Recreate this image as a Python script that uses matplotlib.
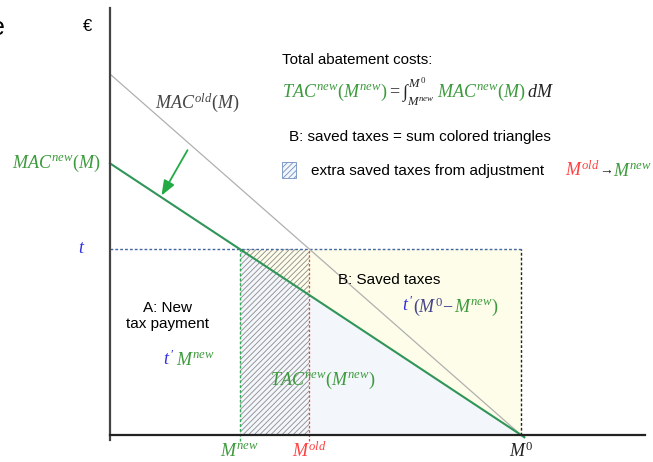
import matplotlib
matplotlib.use("Agg")
import matplotlib.pyplot as plt
import matplotlib.transforms as mtransforms
import numpy as np

plt.rcParams["font.family"] = ["Liberation Sans", "DejaVu Sans"]
plt.rcParams["mathtext.fontset"] = "custom"
plt.rcParams["mathtext.rm"] = "Liberation Serif"
plt.rcParams["mathtext.it"] = "Liberation Serif:italic"
plt.rcParams["mathtext.bf"] = "Liberation Serif:bold"
plt.rcParams["hatch.linewidth"] = 0.6

# model: linear MAC curves ending at M0, tax level t
M0 = 10.0
t = 5.0
mac_old_intercept = 9.7
mac_new_intercept = 7.3
M_new = M0 * (1 - t / mac_new_intercept)
M_old = M0 * (1 - t / mac_old_intercept)

GREEN = "#2f9558"
LGREEN = "#3c9a3c"
RED = "#ff4040"
BLUE = "#3030e0"
GRAY = "#444444"


def mac(m, a):
    return a * (1 - m / M0)


fig = plt.figure(figsize=(6.53, 4.62), dpi=100)
ax = fig.add_axes([0, 0, 1, 1])
ax.set_xlim(-2.676, 13.21)
ax.set_ylim(-0.726, 11.69)
ax.axis("off")


def put(x, y, parts, size=12):
    """Draw consecutive text pieces in different colours on one baseline.
    Each part: (text, colour[, fontsize[, raise in dots]])."""
    renderer = fig.canvas.get_renderer()
    trans = ax.transData
    for part in parts:
        s, c = part[0], part[1]
        fs = part[2] if len(part) > 2 else size
        dy = part[3] if len(part) > 3 else 0
        own = mtransforms.offset_copy(trans, fig=fig, y=dy, units="dots")
        txt = ax.text(x, y, s, color=c, transform=own, va="baseline",
                      fontsize=fs)
        w = txt.get_window_extent(renderer).width
        trans = mtransforms.offset_copy(trans, fig=fig, x=w, units="dots")


# coloured triangles (saved taxes)
m = np.linspace(M_new, M0, 200)
ax.fill_between(m, 0, mac(m, mac_new_intercept), color="#f3f6fb", lw=0)
ax.fill_between(m, mac(m, mac_new_intercept), t, color="#fdfde9", lw=0)

# hatched strip: extra saved taxes from adjustment
ax.fill_between([M_new, M_old], 0, t, facecolor="none", edgecolor="#8a8a8a",
                hatch="//////", lw=0)

# guide lines
ax.plot([0, M0], [t, t], ls=(0, (2, 1.5)), color="#4466a0", lw=1)
ax.plot([M_new, M_new], [-0.15, t], ls=(0, (2, 1.5)), color="#33aa55", lw=1)
ax.plot([M_old, M_old], [-0.15, t], ls=(0, (2, 1.5)), color=RED, lw=0.9)
ax.plot([M0, M0], [0, t], ls=(0, (2, 1.5)), color="#222222", lw=1)

# MAC curves
mm = np.array([0, M0 + 0.08])
ax.plot(mm, mac(mm, mac_old_intercept), color="#b0b0b0", lw=0.9)
ax.plot(mm, mac(mm, mac_new_intercept), color=GREEN, lw=1.5)

# axes
ax.plot([0, 0], [-0.13, 11.48], color=GRAY, lw=1.6)
ax.plot([0, 13.02], [0, 0], color="#222222", lw=1.6)

ax.annotate("", xy=(1.22, 6.37), xytext=(1.92, 7.72),
            arrowprops=dict(arrowstyle="-|>,head_length=0.9,head_width=0.35",
                            color="#22aa44", lw=1.3))

# labels
ax.text(-2.73, 10.94, "e", fontsize=18, ha="center", va="center")
ax.text(-0.535, 10.97, "€", fontsize=12, ha="center", va="center")
put(1.09, 8.78, [(r"$MAC^{old}(M)$", GRAY)], size=13)
ax.text(-0.24, 7.31, r"$MAC^{new}(M)$", color=LGREEN, fontsize=13,
        ha="right", va="center")
ax.text(-0.68, 5.0, r"$t$", color=BLUE, fontsize=13, ha="center", va="center")

ax.text(1.41, 3.2, "A: New\ntax payment", fontsize=11, ha="center",
        va="center", linespacing=1.25)
put(1.29, 1.88, [(r"$t\,'$", BLUE), (r"$\,M^{new}$", LGREEN)], size=13)
put(3.89, 1.34, [(r"$TAC^{new}(M^{new})$", LGREEN)], size=13)
ax.text(5.55, 4.17, "B: Saved taxes", fontsize=11, va="center")
put(7.10, 3.32, [(r"$t\,'$", BLUE), (r"$(M^0\!-\!$", "#444488"),
                 (r"$M^{new})$", LGREEN)], size=13)

ax.text(M_new, -0.44, r"$M^{new}$", color=LGREEN, fontsize=13,
        ha="center", va="center")
ax.text(M_old, -0.44, r"$M^{old}$", color=RED, fontsize=13,
        ha="center", va="center")
ax.text(M0, -0.44, r"$M^{0}$", color="#222222", fontsize=13,
        ha="center", va="center")

# annotation block
ax.text(4.18, 10.08, "Total abatement costs:", fontsize=10.8, va="center")
put(4.18, 9.08, [(r"$TAC^{new}(M^{new})$", LGREEN),
                 (r"$=\int_{M^{new}}^{M^0}$", "#222222"),
                 (r"$\,MAC^{new}(M)$", LGREEN),
                 (r"$\,dM$", "#222222")], size=13)
ax.text(4.36, 8.01, "B: saved taxes = sum colored triangles", fontsize=11,
        va="center")
ax.add_patch(plt.Rectangle((4.18, 6.91), 0.35, 0.43, facecolor="#f3f6fb",
                           edgecolor="#7090c0", hatch="//////", lw=0.6))
ax.text(4.89, 7.10, "extra saved taxes from adjustment", fontsize=11,
        va="center")
put(11.06, 6.97, [(r"$M^{old}$", RED), ("→", "#222222", 10, 2),
                  (r"$M^{new}$", LGREEN)], size=13)

fig.savefig("out.png", dpi=100)
